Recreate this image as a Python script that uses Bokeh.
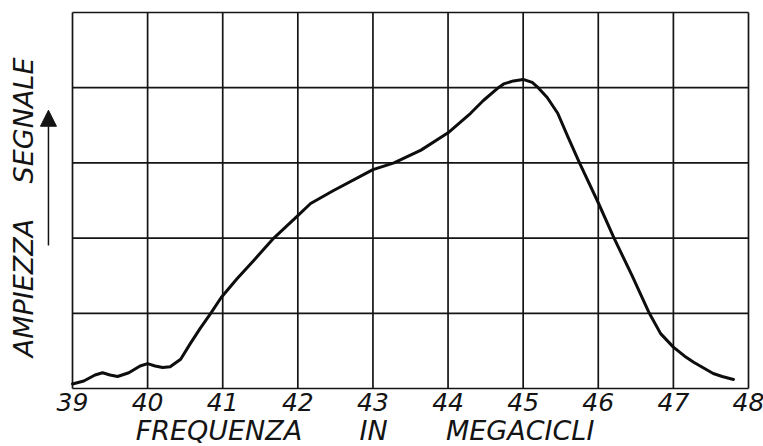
import math
from bokeh.plotting import figure
from bokeh.models import Range1d, Label, Arrow, NormalHead
from bokeh.core.properties import value
from bokeh.embed import file_html
from bokeh.resources import INLINE

# frequency (MHz) and signal amplitude (grid units)
freq = [39.0, 39.15, 39.3, 39.4, 39.5, 39.6, 39.75, 39.9, 40.0, 40.1, 40.2, 40.3,
        40.44, 40.57, 40.70, 40.84, 40.98, 41.19, 41.41, 41.68, 42.0, 42.17, 42.47,
        43.0, 43.28, 43.64, 44.0, 44.30, 44.47, 44.67, 44.74, 44.87, 45.0, 45.12,
        45.2, 45.32, 45.46, 45.59, 45.75, 46.0, 46.21, 46.45, 46.68, 46.83, 47.0,
        47.15, 47.27, 47.53, 47.65, 47.8]
amp = [0.06, 0.10, 0.18, 0.21, 0.18, 0.16, 0.21, 0.30, 0.33, 0.30, 0.28, 0.29,
       0.39, 0.60, 0.80, 1.0, 1.21, 1.46, 1.70, 2.0, 2.30, 2.46, 2.63,
       2.91, 3.0, 3.17, 3.40, 3.66, 3.83, 4.0, 4.05, 4.09, 4.11, 4.07,
       4.0, 3.87, 3.66, 3.36, 3.0, 2.47, 2.0, 1.50, 1.0, 0.73, 0.55,
       0.43, 0.35, 0.20, 0.16, 0.12]

x_ticks = [39, 40, 41, 42, 43, 44, 45, 46, 47, 48]
x_tick_labels = ["39", "40", "41", "42", "43", "44", "45", "46", "47", "48"]
y_ticks = [0, 1, 2, 3, 4, 5]
x_words = ["FREQUENZA", "IN", "MEGACICLI"]
y_words = ["AMPIEZZA", "SEGNALE"]

FONT = "DejaVu Sans"
INK = "#141414"

W, H = 763, 446
# the frame fills the canvas; ranges chosen so the grid box sits where the reference has it
px_x = 676 / 9.0
px_y = 376 / 5.0
x0 = 39 - 72 / px_x
x1 = 48 + (W - 748) / px_x
y0 = 0 - (H - 388) / px_y
y1 = 5 + 12 / px_y

p = figure(width=W, height=H, output_backend="svg", toolbar_location=None,
           x_range=Range1d(x0, x1), y_range=Range1d(y0, y1),
           x_axis_location=None, y_axis_location=None, min_border=0)
p.background_fill_color = "white"
p.border_fill_color = "white"
p.outline_line_color = None
p.xgrid.visible = False
p.ygrid.visible = False

ymin, ymax = min(y_ticks), max(y_ticks)
xmin, xmax = min(x_ticks), max(x_ticks)
# vertical and horizontal grid lines of the chart paper
p.segment(x0=x_ticks, y0=[ymin] * len(x_ticks), x1=x_ticks, y1=[ymax] * len(x_ticks),
          line_color=INK, line_width=1.7)
p.segment(x0=[xmin] * len(y_ticks), y0=y_ticks, x1=[xmax] * len(y_ticks), y1=y_ticks,
          line_color=INK, line_width=1.7)

p.line(freq, amp, line_color="#0d0d0d", line_width=3, line_join="round", line_cap="round")

# tick labels along the bottom edge
p.text(x=x_ticks, y=[-0.186] * len(x_ticks), text=x_tick_labels,
       text_font=value(FONT), text_font_style="italic", text_font_size="25px",
       text_align="center", text_baseline="middle", text_color=INK)

# x-axis title words
x_pos = [40.95, 43.01, 44.96]
for w, xp in zip(x_words, x_pos):
    p.add_layout(Label(x=xp, y=-0.56, text=w, text_font=FONT, text_font_style="italic",
                       text_font_size="27px", text_align="center", text_baseline="middle",
                       text_color=INK))

# y-axis title words (rotated)
y_pos = [1.336, 3.564]
for w, yp in zip(y_words, y_pos):
    p.add_layout(Label(x=38.35, y=yp, text=w, angle=math.pi / 2, text_font=FONT,
                       text_font_style="italic", text_font_size="27px",
                       text_align="center", text_baseline="middle", text_color=INK))

p.add_layout(Arrow(x_start=38.68, y_start=1.9, x_end=38.68, y_end=3.70,
                   line_color=INK, line_width=1.5,
                   end=NormalHead(size=16, fill_color=INK, line_color=INK)))

open("out.html", "w").write(file_html(p, INLINE))
